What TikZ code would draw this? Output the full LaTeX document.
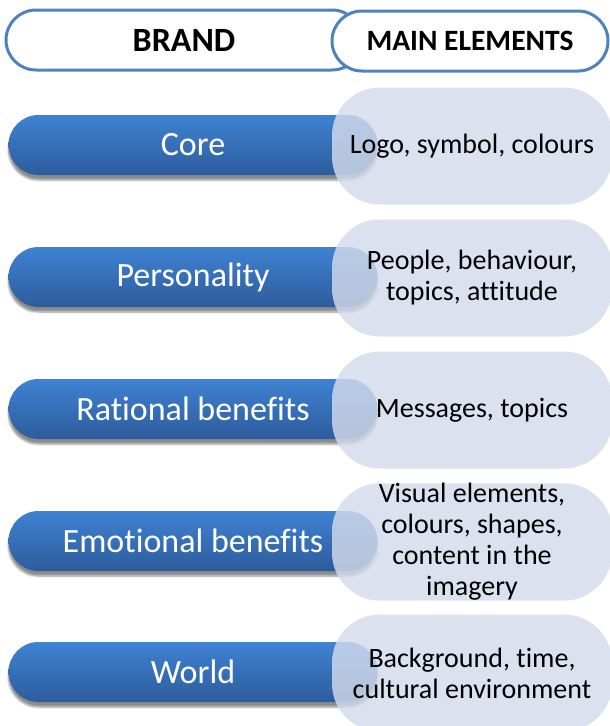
\documentclass[tikz,border=0pt]{standalone}
\usepackage{fontspec}
\setmainfont{Carlito}[Ligatures=NoCommon]
\usetikzlibrary{shadows.blur}
\definecolor{rimblue}{HTML}{4F81BD}
\definecolor{bartop}{HTML}{3F82D3}
\definecolor{barbot}{HTML}{2D5C9C}
\definecolor{paleblue}{HTML}{D3DBEA}
\tikzset{
  header/.style={draw=rimblue, line width=3pt, fill=white, rounded corners=30pt,
    minimum height=60pt, font=\fontsize{29.5}{32}\selectfont\bfseries, inner sep=0pt},
  brandbar/.style={rounded corners=30pt, minimum width=369pt, minimum height=60pt,
    top color=bartop, bottom color=barbot, text=white, inner sep=0pt,
    font=\fontsize{34}{36}\selectfont,
    blur shadow={shadow xshift=0pt, shadow yshift=-5pt, shadow blur steps=6, shadow opacity=45}},
  elembox/.style={rounded corners=48pt, minimum width=280pt, minimum height=117pt,
    fill=paleblue, fill opacity=0.82, text opacity=1, text=black, inner sep=0pt,
    align=center, font=\fontsize{28}{31}\selectfont}
}
\begin{document}
\begin{tikzpicture}[x=1pt, y=-1pt]
\useasboundingbox (0,0) rectangle (610,726);
% header row
\node[header, minimum width=356pt] (brand) at (184,40) {\fontsize{34}{36}\selectfont BRAND};
\node[header, minimum width=276pt] (mainel) at (470,41) {MAIN ELEMENTS};
% brand layers
\node[brandbar] (core) at (193,145) {Core};
\node[brandbar] (pers) at (193,277) {Personality};
\node[brandbar] (rat)  at (193,409) {Rational benefits};
\node[brandbar] (emo)  at (193,541) {Emotional benefits};
\node[brandbar] (world) at (193,672) {World};
% main elements of each layer
\node[elembox] (coreel)  at (472,146) {Logo, symbol, colours};
\node[elembox] (persel)  at (472,278) {People, behaviour,\\topics, attitude};
\node[elembox] (ratel)   at (472,410) {Messages, topics};
\node[elembox] (emoel)   at (472,542) {Visual elements,\\colours, shapes,\\content in the\\imagery};
\node[elembox] (worldel) at (472,673) {Background, time,\\cultural environment};
\end{tikzpicture}
\end{document}
